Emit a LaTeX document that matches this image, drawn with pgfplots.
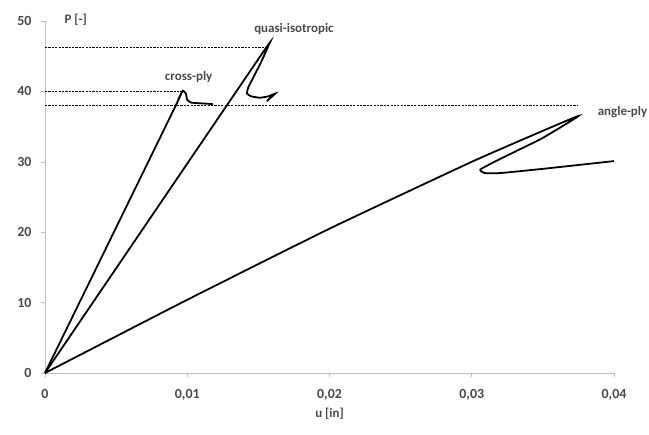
\documentclass[border=0pt]{standalone}
\usepackage{pgfplots}
\pgfplotsset{compat=1.18}
\usepackage{fontspec}
\setmainfont{Carlito}
\definecolor{axgray}{HTML}{BFBFBF}
\definecolor{txtgray}{HTML}{4A4A4A}

\begin{document}
\begin{tikzpicture}
\begin{axis}[
    name=ax,
    scale only axis,
    width=569bp, height=352bp,
    xmin=0, xmax=0.04,
    ymin=0, ymax=50,
    axis lines=left,
    axis line style={-, axgray, line width=0.8pt},
    scaled x ticks=false,
    xtick={0,0.01,0.02,0.03,0.04},
    xticklabels={0,{0,01},{0,02},{0,03},{0,04}},
    ytick={0,10,20,30,40,50},
    yticklabels={0,10,20,30,40,50},
    tick style={axgray, line width=0.6pt},
    tick align=outside,
    major tick length=4bp,
    ticklabel style={font=\fontsize{14}{16}\selectfont\bfseries, text=txtgray},
    xticklabel style={yshift=-9bp},
    yticklabel style={xshift=-6bp},
    xlabel={u [in]},
    xlabel style={font=\fontsize{13}{15}\selectfont\bfseries, text=txtgray, yshift=-1bp},
    clip=false,
]
% dashed guide lines at the peaks
\addplot [black, line width=0.6pt, dash pattern=on 2.2pt off 1.2pt] coordinates {(0,46.2) (0.0157,46.2)};
\addplot [black, line width=0.6pt, dash pattern=on 2.2pt off 1.2pt] coordinates {(0,40.0) (0.0097,40.0)};
\addplot [black, line width=0.6pt, dash pattern=on 2.2pt off 1.2pt] coordinates {(0,38.0) (0.0375,38.0)};

% cross-ply
\addplot [black, line width=1.8pt, smooth, tension=0.3] coordinates {
    (0,0) (0.0090,37.2) (0.0095,39.4) (0.0097,40.1) (0.0099,39.7)
    (0.0100,38.8) (0.0103,38.4) (0.0110,38.3) (0.0118,38.2)
};
% quasi-isotropic
\addplot [black, line width=1.8pt, smooth, tension=0.3] coordinates {
    (0,0) (0.0150,44.6) (0.0157,46.5) (0.0152,44.2) (0.0147,42.2)
    (0.0143,40.6) (0.0142,39.7) (0.0145,39.3) (0.0151,39.1)
    (0.0157,39.3) (0.0162,39.7) (0.0158,39.0) (0.0156,38.6)
};
% angle-ply
\addplot [black, line width=1.8pt, smooth, tension=0.3] coordinates {
    (0,0) (0.0100,10.4) (0.0200,20.5) (0.0300,30.0) (0.0350,34.4)
    (0.0375,36.5) (0.0350,33.4) (0.0330,31.4) (0.0315,29.9)
    (0.0306,28.9) (0.0309,28.4) (0.0320,28.4) (0.0350,29.0) (0.0400,30.1)
};

\node [font=\fontsize{13}{15}\selectfont\bfseries, text=txtgray, anchor=west] at (rel axis cs:0,1) [xshift=16bp, yshift=1bp] {P [-]};
\node [font=\fontsize{13}{15}\selectfont\bfseries, text=txtgray] at (axis cs:0.0175,48.8) {quasi-isotropic};
\node [font=\fontsize{13}{15}\selectfont\bfseries, text=txtgray] at (axis cs:0.0101,42.0) {cross-ply};
\node [font=\fontsize{13}{15}\selectfont\bfseries, text=txtgray] at (axis cs:0.0406,37.0) {angle-ply};

\coordinate (bl) at ([shift={(-45bp,-62bp)}]rel axis cs:0,0);
\coordinate (tr) at ([shift={(35bp,21bp)}]rel axis cs:1,1);
\end{axis}
\pgfresetboundingbox
\path (bl) rectangle (tr);
\end{tikzpicture}
\end{document}
